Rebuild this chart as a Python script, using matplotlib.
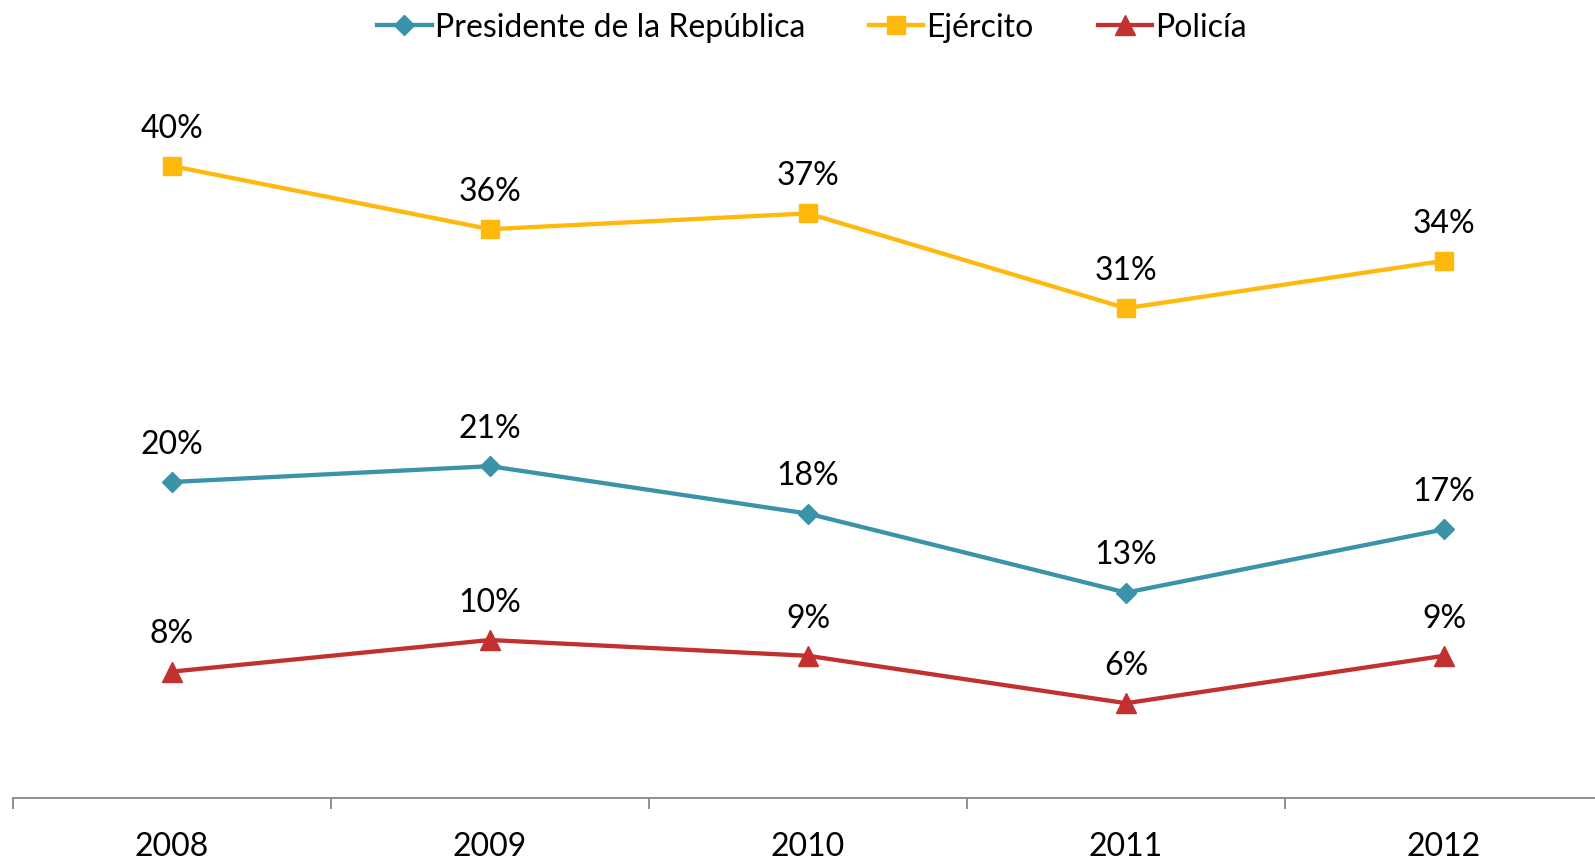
import numpy as np
import matplotlib.pyplot as plt

plt.rcParams['font.family'] = ['Lato', 'DejaVu Sans']

years = ["2008", "2009", "2010", "2011", "2012"]
presidente = [20, 21, 18, 13, 17]
ejercito = [40, 36, 37, 31, 34]
policia = [8, 10, 9, 6, 9]

series = [
    ("Presidente de la República", presidente, "#3A93A9", "D", 10),
    ("Ejército", ejercito, "#FFB80C", "s", 13),
    ("Policía", policia, "#C23030", "^", 14),
]

fig = plt.figure(figsize=(15.95, 8.62), dpi=100)
ax = fig.add_axes([13 / 1595, 1 - 799 / 862, 1590 / 1595, 790 / 862])

x = np.arange(len(years))
for name, vals, color, marker, ms in series:
    ax.plot(x, vals, color=color, lw=3.1, marker=marker, markersize=ms,
            label=name, clip_on=False)
    for xi, v in zip(x, vals):
        ax.annotate(f"{v}%", (xi, v), xytext=(0, 21), textcoords="offset points",
                    ha="center", va="baseline", fontsize=23)

ax.set_xlim(-0.5, 4.5)
ax.set_ylim(0, 50)
ax.set_yticks([])
for s in ["top", "right", "left"]:
    ax.spines[s].set_visible(False)
ax.spines["bottom"].set_color("#888888")
ax.spines["bottom"].set_linewidth(1.3)

ax.set_xticks(np.arange(-0.5, 5, 1))
ax.set_xticklabels([])
ax.set_xticks(x, minor=True)
ax.set_xticklabels(years, minor=True, fontsize=23)
ax.tick_params(axis="x", which="major", length=8, width=1.3, color="#888888", direction="out")
ax.tick_params(axis="x", which="minor", length=0, pad=24)

leg = fig.legend(loc="center", bbox_to_anchor=(812 / 1595, 1 - 28 / 862), ncol=3,
                 frameon=False, fontsize=23, handlelength=1.7, handletextpad=0.1,
                 columnspacing=2.0)

fig.savefig("out.png", dpi=100)
